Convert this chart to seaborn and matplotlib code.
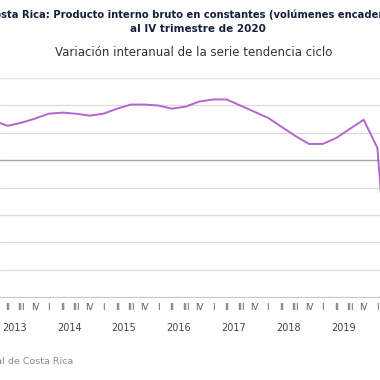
import matplotlib

matplotlib.use("Agg")
import matplotlib.pyplot as plt
import matplotlib.transforms as mtransforms
import pandas as pd
import seaborn as sns

# Data: year-on-year change of the trend-cycle series (%), 2013Q1 .. 2020Q2
years = [2013, 2014, 2015, 2016, 2017, 2018, 2019, 2020]
quarter_names = ["I", "II", "III", "IV"]
variacion = [
    2.88, 2.51, 2.73, 3.03,
    3.39, 3.47, 3.39, 3.25,
    3.39, 3.76, 4.06, 4.06,
    3.99, 3.76, 3.91, 4.28,
    4.43, 4.43, 3.99, 3.54,
    3.10, 2.44, 1.77, 1.18,
    1.18, 1.62, 2.29, 2.95,
    0.89, -12.0,
]
y_ticks = [-10, -8, -6, -4, -2, 0, 2, 4, 6]

df = pd.DataFrame({"pos": range(len(variacion)), "valor": variacion})

sns.set_style("white")
plt.rcParams["font.family"] = ["DejaVu Sans"]

W, H = 380, 380
fig = plt.figure(figsize=(W / 100, H / 100), dpi=100)
ax = fig.add_axes([0, 1 - 297 / H, 1, (297 - 78) / H])

sns.lineplot(data=df, x="pos", y="valor", ax=ax, color="#B366CC", linewidth=1.4)

ax.set_yticks(y_ticks)
ax.yaxis.grid(True, color="#dcdcdc", linewidth=0.9)
ax.axhline(0, color="#a9a9a9", linewidth=1.0, zorder=1)
ax.tick_params(axis="y", left=False, labelleft=False)
for side in ["left", "right", "top"]:
    ax.spines[side].set_visible(False)
ax.spines["bottom"].set_color("#c8c8c8")

# quarter labels on major ticks, year separators as long minor ticks
n_q = len(years) * 4
ax.set_xticks(range(n_q))
ax.set_xticklabels([quarter_names[i % 4] for i in range(n_q)])
ax.set_xticks([4 * k - 0.5 for k in range(len(years) + 1)], minor=True)
ax.tick_params(axis="x", which="major", length=0, pad=4, labelsize=6.3, labelcolor="#5a5a5a")
ax.tick_params(axis="x", which="minor", length=26, width=0.9, color="#c8c8c8", direction="out")
ax.set_xlabel("")
ax.set_ylabel("")

# limits last, so the tick setters do not widen them
x_lo, x_hi = 0.449, 28.19
ax.set_xlim(x_lo, x_hi)
ax.set_ylim(-10, 6)

# year labels, only those whose block centre is in view
trans = mtransforms.blended_transform_factory(ax.transData, ax.transAxes)
for k, yr in enumerate(years):
    centre = 4 * k + 1.5
    if x_lo - 1.5 < centre < x_hi:
        ax.text(centre, -0.14, str(yr), transform=trans, ha="center", va="center",
                fontsize=7, color="#444444")

# titles
fig.text(-13 / W, 1 - 15 / H,
         "Costa Rica: Producto interno bruto en constantes (volúmenes encadenados)",
         ha="left", va="center", fontsize=7.2, fontweight="bold", color="#14213d")
fig.text(198 / W, 1 - 29 / H, "al IV trimestre de 2020", ha="center", va="center",
         fontsize=7.5, fontweight="bold", color="#14213d")
fig.text(194 / W, 1 - 52 / H, "Variación interanual de la serie tendencia ciclo",
         ha="center", va="center", fontsize=8.5, color="#333333")

# source
fig.text(5 / W, 1 - 361 / H, "Fuente: Banco Central", ha="right", va="center",
         fontsize=6.8, color="#8e6fb8")
fig.text(5 / W, 1 - 361 / H, " de Costa Rica", ha="left", va="center",
         fontsize=6.8, color="#8c8c8c")

fig.savefig("out.png", dpi=100)
